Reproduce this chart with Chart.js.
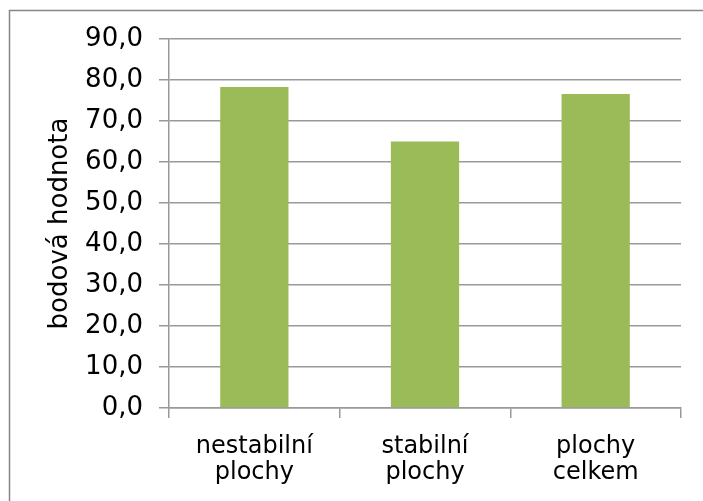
<!DOCTYPE html>
<html>
<head>
<meta charset="utf-8">
<script src="https://cdn.jsdelivr.net/npm/chart.js@4/dist/chart.umd.min.js"></script>
<style>
html,body{margin:0;padding:0;background:#fff;}
#wrap{width:703px;height:501px;position:relative;}
</style>
</head>
<body>
<div id="wrap"><canvas id="c" width="703" height="501"></canvas></div>
<script>
const categories = [["nestabilní","plochy"],["stabilní","plochy"],["plochy","celkem"]];
const values = [78.3, 65.0, 76.6];
const yTicks = [0,10,20,30,40,50,60,70,80,90];
const yTickLabels = ["0,0","10,0","20,0","30,0","40,0","50,0","60,0","70,0","80,0","90,0"];
const yTitle = "bodová hodnota";

const borderPlugin = {
  id:'outerBorder',
  afterDraw(chart){
    const ctx = chart.ctx;
    ctx.save();
    ctx.strokeStyle = '#868686';
    ctx.lineWidth = 1.5;
    ctx.strokeRect(9.5, 10.5, 800, 600);
    ctx.restore();
  }
};

new Chart(document.getElementById('c'), {
  type:'bar',
  data:{
    labels: categories,
    datasets:[{data: values, backgroundColor:'#9bbb59', borderWidth:0,
      categoryPercentage:1.0, barPercentage:0.4}]
  },
  options:{
    responsive:false,
    animation:false,
    devicePixelRatio:1,
    layout:{padding:{left:10, top:39, right:22, bottom:0}},
    plugins:{legend:{display:false}, tooltip:{enabled:false}},
    scales:{
      x:{
        grid:{display:true, drawOnChartArea:false, offset:true, color:'#999', lineWidth:1.5, tickLength:10},
        border:{display:true, color:'#999', width:1.5},
        ticks:{color:'#000', font:{family:'DejaVu Sans', size:24, lineHeight:1.08}, padding:16, maxRotation:0},
        afterFit(s){ s.height = 93; }
      },
      y:{
        min:0, max:90,
        afterBuildTicks(s){ s.ticks = yTicks.map(v=>({value:v})); },
        grid:{color:'#999', lineWidth:1.5, tickLength:10},
        border:{display:true, color:'#999', width:1.5},
        ticks:{color:'#000', font:{family:'DejaVu Sans', size:26}, padding:16,
          callback:(v,i)=>yTickLabels[yTicks.indexOf(v)]},
        title:{display:true, text:yTitle, color:'#000', font:{family:'DejaVu Sans', size:26}, padding:{top:35,bottom:0}},
        afterFit(s){ s.width = 159; }
      }
    }
  },
  plugins:[borderPlugin]
});
</script>
</body>
</html>
